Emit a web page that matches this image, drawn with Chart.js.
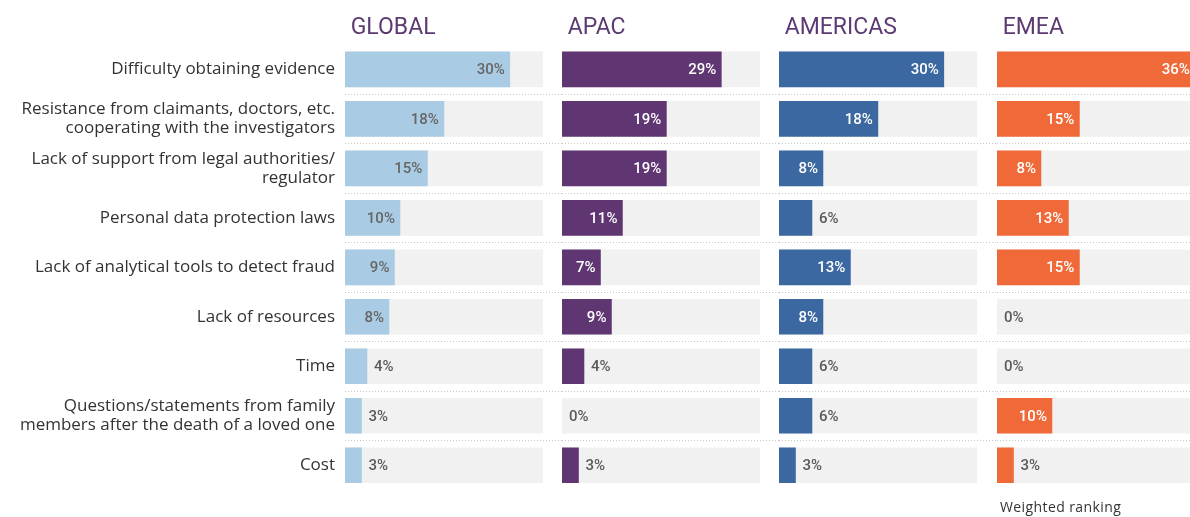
<!DOCTYPE html>
<html>
<head>
<meta charset="utf-8">
<script src="https://cdn.jsdelivr.net/npm/chart.js@4"></script>
<style>
  html, body { margin: 0; padding: 0; background: #fff; overflow: hidden; }
  #wrap { position: relative; width: 1190px; height: 517px; overflow: hidden; }
  #wrap canvas { position: absolute; top: 0; }
  #note { position: absolute; left: 1000px; top: 497px; font: 14px "Open Sans", sans-serif; letter-spacing: 0.4px; color: #333; }
</style>
</head>
<body>
<div id="wrap">
  <canvas id="global" width="562" height="517" style="left:0"></canvas>
  <canvas id="apac" width="217" height="517" style="left:562px"></canvas>
  <canvas id="americas" width="217" height="517" style="left:779px"></canvas>
  <canvas id="emea" width="217" height="517" style="left:997px"></canvas>
  <div id="note">Weighted ranking</div>
</div>
<script>
const categories = [
  "Difficulty obtaining evidence",
  ["Resistance from claimants, doctors, etc.", "cooperating with the investigators"],
  ["Lack of support from legal authorities/", "regulator"],
  "Personal data protection laws",
  "Lack of analytical tools to detect fraud",
  "Lack of resources",
  "Time",
  ["Questions/statements from family", "members after the death of a loved one"],
  "Cost"
];
const globalValues = [30, 18, 15, 10, 9, 8, 4, 3, 3];
const apacValues = [29, 19, 19, 11, 7, 9, 4, 0, 3];
const americasValues = [30, 18, 8, 6, 13, 8, 6, 6, 3];
const emeaValues = [36, 15, 8, 13, 15, 0, 0, 10, 3];
const trackValues = [36, 36, 36, 36, 36, 36, 36, 36, 36]; // grey background bars
const axisMax = 39.5; // leaves room for the gap between panels

// percentage labels: inside the bar end when there is room, otherwise just after it
const valueLabels = {
  id: 'valueLabels',
  afterDatasetsDraw(chart, args, opts) {
    const ctx = chart.ctx;
    const meta = chart.getDatasetMeta(0);
    const data = chart.data.datasets[0].data;
    ctx.save();
    ctx.font = '500 15px Roboto';
    ctx.textBaseline = 'middle';
    meta.data.forEach((bar, i) => {
      const v = data[i];
      const inside = v >= 7;
      ctx.fillStyle = inside ? opts.insideColor : '#5a5a5a';
      ctx.textAlign = inside ? 'right' : 'left';
      ctx.fillText(v + '%', inside ? bar.x - 5 : bar.x + 7, bar.y + 1);
    });
    ctx.restore();
  }
};

function makePanel(id, title, values, color, insideColor, showLabels) {
  return new Chart(document.getElementById(id), {
    type: 'bar',
    plugins: [valueLabels],
    data: {
      labels: categories,
      datasets: [
        {
          data: values,
          backgroundColor: (c) => c.raw === 0 ? 'rgba(0,0,0,0)' : color,
          barThickness: 35, grouped: false, order: 1
        },
        { data: trackValues, backgroundColor: '#f1f1f1', barThickness: 35, grouped: false, order: 2 }
      ]
    },
    options: {
      indexAxis: 'y',
      responsive: false,
      animation: false,
      layout: { padding: { bottom: 27 } },
      scales: {
        x: { display: false, min: 0, max: axisMax },
        y: {
          afterFit: (scale) => { scale.width = showLabels ? 345 : 0; },
          border: { display: false, dash: [1, 2] },
          grid: {
            drawTicks: false,
            color: (c) => (c.type === 'tick' && c.index > 0) ? '#c8c8c8' : 'rgba(0,0,0,0)'
          },
          ticks: {
            display: showLabels,
            padding: 10,
            color: '#333',
            font: { family: 'Open Sans', size: 17, lineHeight: 1.1 }
          }
        }
      },
      plugins: {
        legend: { display: false },
        tooltip: { enabled: false },
        title: {
          display: true,
          text: title,
          align: 'start',
          fullSize: false,
          color: '#5c3a72',
          font: { family: 'Roboto', size: 23, weight: 'normal' },
          padding: { top: 14, bottom: 3 }
        },
        valueLabels: { insideColor: insideColor }
      }
    }
  });
}

makePanel('global', ' GLOBAL', globalValues, '#a9cbe3', '#666', true);
makePanel('apac', ' APAC', apacValues, '#5f3672', '#fff', false);
makePanel('americas', ' AMERICAS', americasValues, '#3b68a0', '#fff', false);
makePanel('emea', ' EMEA', emeaValues, '#f06a39', '#fff', false);
</script>
</body>
</html>
